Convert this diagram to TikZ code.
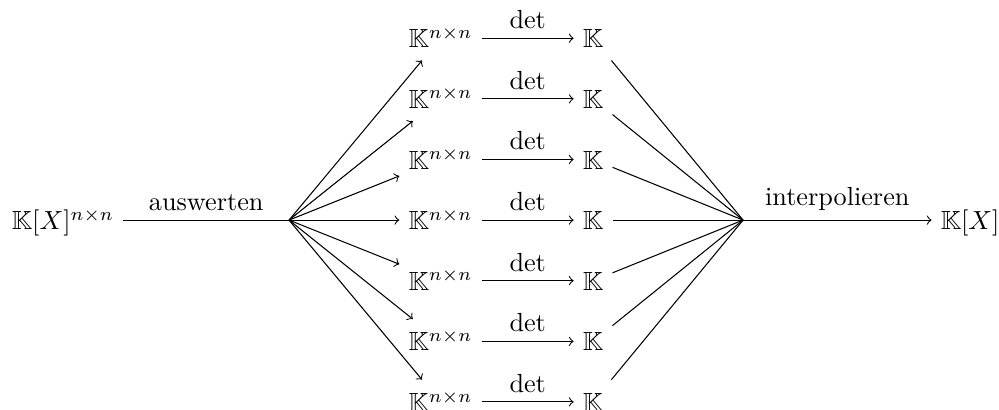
\documentclass[tikz,border=0pt]{standalone}
\usepackage{amssymb}
\usetikzlibrary{arrows}
\tikzstyle{term} = [
    inner sep=0.333em,
    text height=2ex,
    text depth=0.3ex
]
\tikzstyle{arrow} = [->]
\tikzstyle{line} = [-]

\begin{document}
\begin{tikzpicture}[node distance=0.813cm]
\useasboundingbox (0,0) rectangle (13.40,5.487);

\node (lft) [term] at (0.845,2.535) {$\mathbb{K}[X]^{n\times n}$};
\coordinate (split) at (3.877,2.535);

\node (mat4) [term] at (5.909,2.535) {$\mathbb{K}^{n\times n}$};
\node (mat3) [term, above of=mat4] {$\mathbb{K}^{n\times n}$};
\node (mat2) [term, above of=mat3] {$\mathbb{K}^{n\times n}$};
\node (mat1) [term, above of=mat2] {$\mathbb{K}^{n\times n}$};
\node (mat5) [term, below of=mat4] {$\mathbb{K}^{n\times n}$};
\node (mat6) [term, below of=mat5] {$\mathbb{K}^{n\times n}$};
\node (mat7) [term, below of=mat6] {$\mathbb{K}^{n\times n}$};

\node (val4) [term] at (7.955,2.535) {$\mathbb{K}$};
\node (val3) [term, above of=val4] {$\mathbb{K}$};
\node (val2) [term, above of=val3] {$\mathbb{K}$};
\node (val1) [term, above of=val2] {$\mathbb{K}$};
\node (val5) [term, below of=val4] {$\mathbb{K}$};
\node (val6) [term, below of=val5] {$\mathbb{K}$};
\node (val7) [term, below of=val6] {$\mathbb{K}$};

\coordinate (join) at (9.967,2.535);
\node (res) [term] at (13.013,2.535) {$\mathbb{K}[X]$};

\draw [line] (lft) -- node[above]{auswerten} (split);

\draw [arrow] (split) -- (mat1);
\draw [arrow] (split) -- (mat2);
\draw [arrow] (split) -- (mat3);
\draw [arrow] (split) -- (mat4);
\draw [arrow] (split) -- (mat5);
\draw [arrow] (split) -- (mat6);
\draw [arrow] (split) -- (mat7);

\draw [arrow] (mat1) -- node[above]{det} (val1);
\draw [arrow] (mat2) -- node[above]{det} (val2);
\draw [arrow] (mat3) -- node[above]{det} (val3);
\draw [arrow] (mat4) -- node[above]{det} (val4);
\draw [arrow] (mat5) -- node[above]{det} (val5);
\draw [arrow] (mat6) -- node[above]{det} (val6);
\draw [arrow] (mat7) -- node[above]{det} (val7);

\draw [line] (val1) -- (join);
\draw [line] (val2) -- (join);
\draw [line] (val3) -- (join);
\draw [line] (val4) -- (join);
\draw [line] (val5) -- (join);
\draw [line] (val6) -- (join);
\draw [line] (val7) -- (join);

\draw [arrow] (join) -- node[above]{interpolieren} (res);

\end{tikzpicture}
\end{document}
